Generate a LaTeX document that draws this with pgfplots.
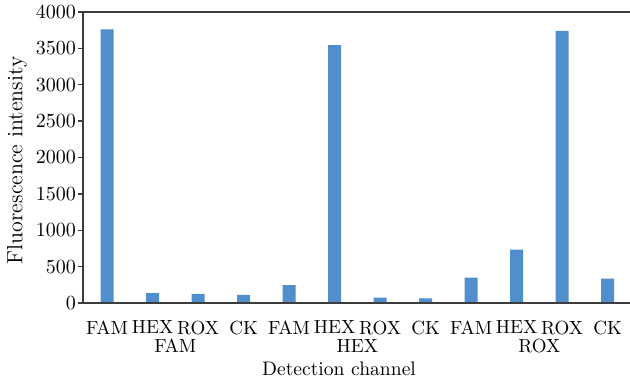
\documentclass[border=0pt]{standalone}
\usepackage{pgfplots}
\pgfplotsset{compat=1.18}
\definecolor{barblue}{RGB}{80,143,204}
\definecolor{axisgray}{RGB}{60,60,60}
\begin{document}
\begin{tikzpicture}
\begin{axis}[
  at={(0,0)}, anchor=south west,
  scale only axis,
  width=273.5pt, height=145.5pt,
  xmin=-0.53, xmax=11.49,
  ymin=0, ymax=4000,
  ytick={0,500,1000,1500,2000,2500,3000,3500,4000},
  /pgf/number format/1000 sep={},
  xtick={0,1,2,3,4,5,6,7,8,9,10,11},
  xticklabels={FAM,HEX,ROX,CK,FAM,HEX,ROX,CK,FAM,HEX,ROX,CK},
  x tick style={draw=none},
  xticklabel style={yshift=-2.8pt, font=\fontsize{9.5}{11}\selectfont},
  ytick pos=left,
  tick align=outside,
  major tick length=2.5pt,
  y tick style={line width=0.7pt, axisgray},
  yticklabel style={xshift=2.5pt, font=\fontsize{9.6}{11}\selectfont},
  axis line style={draw=none},
  clip=false,
]
\addplot[ybar, bar width=6.5pt, fill=barblue, draw=none] coordinates {
  (0,3760) (1,135) (2,125) (3,112) (4,245) (5,3545)
  (6,75) (7,65) (8,350) (9,735) (10,3740) (11,335)
};
\draw[axisgray, line width=0.9pt] (rel axis cs:1,1) -- (rel axis cs:0,1) -- (rel axis cs:0,0) -- (rel axis cs:1,0);
\node[anchor=base, font=\fontsize{9.5}{11}\selectfont] at ([yshift=-25pt]axis cs:1.5,0) {FAM};
\node[anchor=base, font=\fontsize{9.5}{11}\selectfont] at ([yshift=-25pt]axis cs:5.5,0) {HEX};
\node[anchor=base, font=\fontsize{9.5}{11}\selectfont] at ([yshift=-25pt]axis cs:9.5,0) {ROX};
\node[anchor=base, font=\fontsize{9.8}{12}\selectfont] at ([yshift=-36.5pt]rel axis cs:0.468,0) {Detection channel};
\node[rotate=90, anchor=center, font=\fontsize{11}{13}\selectfont] at ([xshift=-33pt]rel axis cs:0,0.49) {Fluorescence intensity};
\end{axis}
\pgfresetboundingbox
\path (-41.5pt,-40.5pt) rectangle (273.5pt,151.5pt);
\end{tikzpicture}
\end{document}
